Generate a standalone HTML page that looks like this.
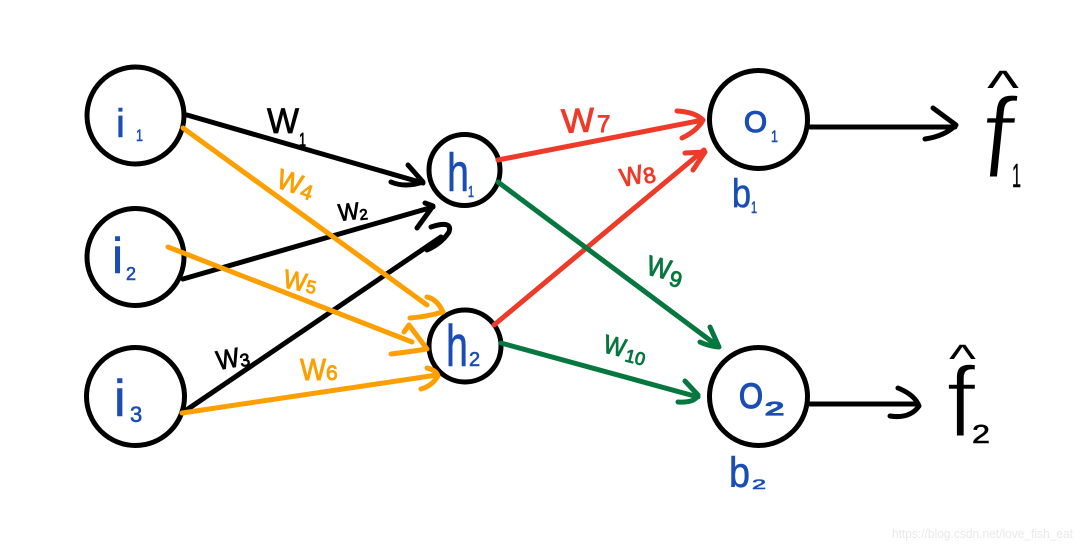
<!DOCTYPE html>
<html>
<head>
<meta charset="utf-8">
<style>
html,body{margin:0;padding:0;background:#fff;width:1080px;height:547px;overflow:hidden}
svg{display:block}
text{font-family:"Liberation Sans",sans-serif}
.c{fill:#fff;stroke:#000;stroke-width:5}
.l{fill:none;stroke-linecap:round;stroke-linejoin:round;stroke-width:5}
.k{stroke:#000}.o{stroke:#fd9f00}.r{stroke:#ee3a28}.g{stroke:#06773f}
.tk{fill:#000;stroke:#000;stroke-width:.8}.to{fill:#fd9f00;stroke:#fd9f00;stroke-width:.9}.tr{fill:#ee3a28;stroke:#ee3a28;stroke-width:.9}.tg{fill:#06773f;stroke:#06773f;stroke-width:.9}
.tb{fill:#1a4db5;stroke:#1a4db5;stroke-width:.6}
.tc{fill:#1a4db5;stroke:#1a4db5;stroke-width:1.3}
</style>
</head>
<body>
<svg width="1080" height="547" viewBox="0 0 1080 547" xmlns="http://www.w3.org/2000/svg">
<rect width="1080" height="547" fill="#fff"/>
<!-- circles -->
<circle class="c" cx="135.5" cy="115.5" r="48.5"/>
<circle class="c" cx="135.5" cy="257" r="48.5"/>
<circle class="c" cx="135.5" cy="396.5" r="49"/>
<circle class="c" cx="464.5" cy="170" r="35.5"/>
<circle class="c" cx="465" cy="346" r="36"/>
<circle class="c" cx="758.5" cy="119.5" r="49"/>
<circle class="c" cx="758.5" cy="396.5" r="49"/>
<!-- black edges -->
<path class="l k" d="M187 115L423 183M408 165L423 182Q405 188 391 182"/>
<path class="l k" d="M183 279L433 207M425 203L433 206L417 228"/>
<path class="l k" d="M185 411L441 237M431 227Q453 220 449 232Q441 244 427 250"/>
<!-- orange edges -->
<path class="l o" d="M183 128L427 305M427 297Q437 299 443 312Q425 317 410 318"/>
<path class="l o" d="M168 247L412 342M404 332L409 325L427 349Q408 352 391 354"/>
<path class="l o" d="M182 413L437 375M427 368Q436 370 438 376Q432 386 421 389"/>
<!-- red edges -->
<path class="l r" d="M498 160L703 120M677 111Q695 112 703 120Q697 131 682 138"/>
<path class="l r" d="M494 325L704 150M685 153L705 152L693 170"/>
<!-- green edges -->
<path class="l g" d="M498 182L719 347M710 327L719 347Q708 346 700 342"/>
<path class="l g" d="M501 343L698 397M685 381L698 395Q695 403 678 402"/>
<!-- outputs -->
<path class="l k" d="M810 127L955 127M933 108L956 125Q945 136 925 139"/>
<path class="l k" d="M810 404L918 404M898 388Q915 395 919 406Q910 419 890 416"/>
<!-- edge labels -->
<text class="tk" x="267" y="133" font-size="35" textLength="32" lengthAdjust="spacingAndGlyphs">W</text>
<text class="tk" x="299" y="146" font-size="18" textLength="7" lengthAdjust="spacingAndGlyphs">1</text>
<text class="to" transform="translate(275 187) rotate(18)" font-size="28" textLength="25" lengthAdjust="spacingAndGlyphs">W</text>
<text class="to" transform="translate(299 197) rotate(18)" font-size="21">4</text>
<text class="tk" transform="translate(339 221) rotate(-6)" font-size="24" textLength="21" lengthAdjust="spacingAndGlyphs">W</text>
<text class="tk" transform="translate(360 220) rotate(-6)" font-size="15">2</text>
<text class="to" transform="translate(282 287) rotate(12)" font-size="26" textLength="23" lengthAdjust="spacingAndGlyphs">W</text>
<text class="to" transform="translate(305 292) rotate(12)" font-size="18">5</text>
<text class="tk" transform="translate(218 370) rotate(-10)" font-size="27" textLength="23" lengthAdjust="spacingAndGlyphs">W</text>
<text class="tk" transform="translate(241 367) rotate(-10)" font-size="18">3</text>
<text class="to" x="300" y="380" font-size="31" textLength="26" lengthAdjust="spacingAndGlyphs">W</text>
<text class="to" x="326" y="380" font-size="21">6</text>
<text class="tr" transform="translate(562 133) rotate(-3)" font-size="34" textLength="33" lengthAdjust="spacingAndGlyphs">W</text>
<text class="tr" x="597" y="132" font-size="24">7</text>
<text class="tr" transform="translate(622 187) rotate(-12)" font-size="26" textLength="23" lengthAdjust="spacingAndGlyphs">W</text>
<text class="tr" transform="translate(645 184) rotate(-12)" font-size="22">8</text>
<text class="tg" transform="translate(645 274) rotate(14)" font-size="28" textLength="24" lengthAdjust="spacingAndGlyphs">W</text>
<text class="tg" transform="translate(668 285) rotate(14)" font-size="22">9</text>
<text class="tg" transform="translate(602 352) rotate(14)" font-size="26" textLength="22" lengthAdjust="spacingAndGlyphs">W</text>
<text class="tg" transform="translate(624 361) rotate(14)" font-size="18">10</text>
<!-- node labels -->
<text class="tb" x="116" y="137" font-size="40">i</text>
<text class="tb" x="136" y="141" font-size="17" textLength="7" lengthAdjust="spacingAndGlyphs">1</text>
<text class="tb" x="112" y="273" font-size="50">i</text>
<text class="tb" x="126" y="280" font-size="18">2</text>
<text class="tb" x="114" y="416" font-size="52">i</text>
<text class="tb" x="130" y="422" font-size="22">3</text>
<text class="tb" x="447" y="191" font-size="54" textLength="22" lengthAdjust="spacingAndGlyphs">h</text>
<text class="tb" x="468" y="197" font-size="16" textLength="6" lengthAdjust="spacingAndGlyphs">1</text>
<text class="tb" x="446" y="366" font-size="58" textLength="22" lengthAdjust="spacingAndGlyphs">h</text>
<text class="tb" x="469" y="366" font-size="20">2</text>
<text class="tc" x="744" y="132" font-size="30" textLength="23" lengthAdjust="spacingAndGlyphs">O</text>
<text class="tb" x="771" y="142" font-size="17" textLength="7" lengthAdjust="spacingAndGlyphs">1</text>
<text class="tc" x="739" y="408" font-size="35" textLength="24" lengthAdjust="spacingAndGlyphs">O</text>
<text class="tc" x="765" y="415" font-size="18" textLength="19" lengthAdjust="spacingAndGlyphs">2</text>
<text class="tb" x="732" y="207" font-size="40" textLength="19" lengthAdjust="spacingAndGlyphs">b</text>
<text class="tb" x="751" y="213" font-size="17" textLength="6" lengthAdjust="spacingAndGlyphs">1</text>
<text class="tb" x="729" y="487" font-size="43" textLength="21" lengthAdjust="spacingAndGlyphs">b</text>
<text class="tb" x="752" y="489" font-size="14" textLength="14" lengthAdjust="spacingAndGlyphs">2</text>
<!-- f hats -->
<text transform="translate(978 178) skewX(-6)" font-size="116" fill="#000" stroke="#fff" stroke-width="3" textLength="32" lengthAdjust="spacingAndGlyphs">f</text>
<text x="987" y="104" font-size="48" fill="#000" textLength="32" lengthAdjust="spacingAndGlyphs">^</text>
<text x="1012" y="187" font-size="33" fill="#000" stroke="#000" stroke-width=".5" textLength="9" lengthAdjust="spacingAndGlyphs">1</text>
<text x="946" y="437" font-size="101" fill="#000" stroke="#fff" stroke-width="2.5" textLength="30" lengthAdjust="spacingAndGlyphs">f</text>
<text x="949" y="372" font-size="40" fill="#000" textLength="27" lengthAdjust="spacingAndGlyphs">^</text>
<text x="972" y="443" font-size="26" fill="#000" stroke="#000" stroke-width=".6" textLength="18" lengthAdjust="spacingAndGlyphs">2</text>
<!-- watermark -->
<text x="892" y="538" font-size="13" fill="#e9e9e9" textLength="181" lengthAdjust="spacingAndGlyphs">https://blog.csdn.net/love_fish_eat</text>
</svg>
</body>
</html>
